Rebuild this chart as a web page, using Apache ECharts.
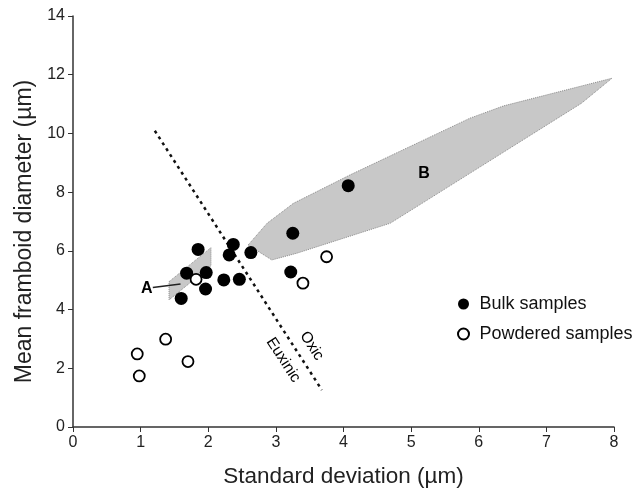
<!DOCTYPE html>
<html><head><meta charset="utf-8">
<script src="https://cdn.jsdelivr.net/npm/echarts@6/dist/echarts.min.js"></script>
<style>html,body{margin:0;padding:0;background:#fff}#c{width:642px;height:491px}</style>
</head><body><div id="c"></div>
<script>
// Bulk samples [std dev, mean diameter]
var bulkSamples = [[1.60,4.38],[1.85,6.05],[1.68,5.24],[1.97,5.26],[1.96,4.70],[2.23,5.01],[2.46,5.03],[2.31,5.86],[2.37,6.22],[2.63,5.94],[3.22,5.28],[3.25,6.60],[4.07,8.22]];
// Powdered samples
var powderedSamples = [[1.82,5.03],[3.75,5.80],[3.40,4.90],[1.37,2.99],[0.95,2.49],[0.98,1.74],[1.70,2.23]];
// Field A and B outlines
var fieldA = [[1.42,4.95],[2.04,6.11],[2.04,5.49],[1.42,4.33]];
var fieldB = [[2.59,6.2],[2.87,6.94],[3.26,7.62],[4.10,8.59],[5.87,10.52],[6.37,10.94],[7.97,11.88],[7.52,11.03],[5.28,7.79],[4.69,6.94],[3.31,5.92],[2.94,5.69]];
// Oxic / Euxinic boundary
var boundaryLine = [[1.21,10.09],[3.68,1.26]];
var leaderA = [[1.18,4.75],[1.59,4.87]];
var labelsText = [{name:'A',value:[1.09,4.73]},{name:'B',value:[5.19,8.62]}];
var rotatedText = [{name:'Oxic',value:[3.53,2.76]},{name:'Euxinic',value:[3.11,2.28]}];
var xTicks = [0,8,1];
var yTicks = [0,14,2];

function polySeries(pts){
  return {type:'custom',silent:true,z:1,data:pts,
    renderItem:function(params,api){
      if(params.dataIndex!==0) return;
      var p = pts.map(function(d){return api.coord(d);});
      return {type:'polygon',shape:{points:p},style:{fill:'#c8c8c8',stroke:'#8a8a8a',lineWidth:1,lineDash:[1,1]}};
    }};
}
var FONT='Liberation Sans';
var chart = echarts.init(document.getElementById('c'),null,{renderer:'canvas'});
chart.setOption({
  animation:false,
  textStyle:{fontFamily:FONT},
  grid:{left:73,right:28,top:16,bottom:64,containLabel:false,outerBoundsMode:'none'},
  legend:{orient:'vertical',left:452,top:290,itemGap:12,itemWidth:22,itemHeight:11,
    textStyle:{fontFamily:FONT,fontSize:18,color:'#111'},
    data:['Bulk samples','Powdered samples']},
  xAxis:{type:'value',min:xTicks[0],max:xTicks[1],interval:xTicks[2],
    name:'Standard deviation (µm)',nameLocation:'middle',nameGap:38,
    nameTextStyle:{fontFamily:FONT,fontSize:22.5,color:'#222'},
    axisLine:{lineStyle:{color:'#333',width:1.5}},axisTick:{length:5,lineStyle:{color:'#333'}},
    axisLabel:{fontFamily:FONT,fontSize:16,color:'#222',margin:8},splitLine:{show:false}},
  yAxis:{type:'value',min:yTicks[0],max:yTicks[1],interval:yTicks[2],
    name:'Mean framboid diameter (µm)',nameLocation:'middle',nameGap:36,
    nameTextStyle:{fontFamily:FONT,fontSize:23,color:'#222',padding:[0,20,0,0]},
    axisLine:{show:true,lineStyle:{color:'#333',width:1.5}},axisTick:{show:true,length:5,lineStyle:{color:'#333'}},
    axisLabel:{fontFamily:FONT,fontSize:16,color:'#222',margin:8},splitLine:{show:false}},
  series:[
    polySeries(fieldB),
    polySeries(fieldA),
    {type:'line',data:boundaryLine,symbol:'none',silent:true,z:2,
      lineStyle:{color:'#111',width:2.5,type:[3,4]}},
    {type:'line',data:leaderA,symbol:'none',silent:true,z:2,
      lineStyle:{color:'#222',width:1.5}},
    {type:'scatter',data:labelsText,symbolSize:1,silent:true,z:5,itemStyle:{opacity:0},
      label:{show:true,position:'inside',formatter:'{b}',fontFamily:FONT,fontSize:16,fontWeight:'bold',color:'#000',textBorderWidth:0,opacity:1}},
    {type:'scatter',data:rotatedText,symbolSize:1,silent:true,z:5,itemStyle:{opacity:0},
      label:{show:true,position:'inside',formatter:'{b}',rotate:-57,fontFamily:FONT,fontSize:15.5,color:'#000',textBorderWidth:0,opacity:1}},
    {name:'Bulk samples',type:'scatter',data:bulkSamples,symbol:'circle',symbolSize:13,z:4,
      itemStyle:{color:'#000',opacity:1}},
    {name:'Powdered samples',type:'scatter',data:powderedSamples,symbol:'circle',symbolSize:11,z:4,
      itemStyle:{color:'#fff',borderColor:'#000',borderWidth:1.8,opacity:1}}
  ]
});
</script></body></html>
